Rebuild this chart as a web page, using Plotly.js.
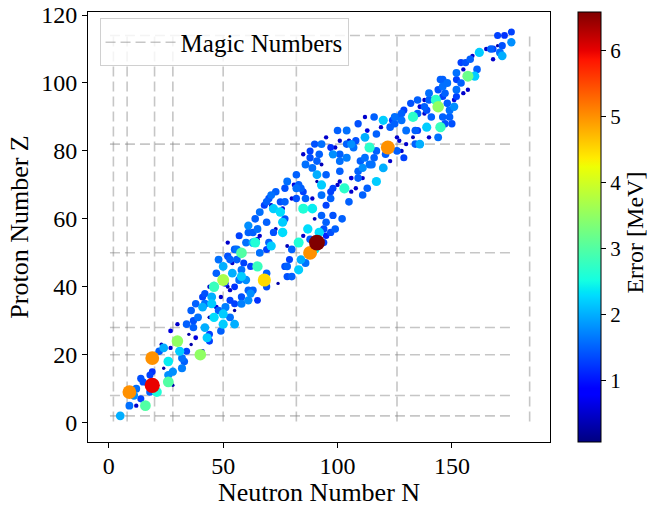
<!DOCTYPE html>
<html>
<head>
<meta charset="utf-8">
<script src="https://cdn.plot.ly/plotly-3.0.1.min.js"></script>
<style>html,body{margin:0;padding:0;background:#fff;}#chart{width:654px;height:507px;}</style>
</head>
<body>
<div id="chart"></div>
<script>
// Neutron number N, proton number Z, error (MeV) for each nucleus
const N = [5,9,16,12,14,9,11,12,19,18, 21,15,14,18,19,26,26,28,32,32,
  28,19,26,22,23,24,24,27,30,31, 34,33,40,41,27,30,34,35,43,37,
  39,42,46,44,49,50,55,53,48,45, 42,41,41,42,45,49,53,58,61,62,
  65,63,53,52,55,46,50,51,52,54, 58,57,58,60,59,62,65,68,69,64,
  66,69,63,58,56,61,36,38,44,36, 47,51,55,58,44,47,50,54,48,46,
  55,52,60,57,66,70,61,64,66,68, 70,91,88,90,84,83,83,80,82,79,
  78,77,76,76,73,72,69,65,63,65, 71,72,75,76,75,77,82,81,84,86,
  85,89,87,92,95,97,93,90,95,93, 95,93,91,89,97,98,85,78,88,94,
  86,95,71,73,78,80,122,114,120,113, 117,112,108,105,101,97,99,98,101,104,
  107,111,114,116,120,117,113,111,109,106, 103,108,111,106,101,101,98,100,105,89,
  92,93,82,82,86,88,85,90,93,95, 100,104,109,112,116,144,143,145,133,139,
  130,128,132,136,146,151,149,147,144,140, 136,134,130,127,128,124,119,123,123,121,
  126,112,117,126,129,133,141,138,135,140, 146,148,176,173,176,170,171,168,165,162,
  172,168,159,158,156,154,160,157,161,152, 155,152,154,152,155,157,151,138,138,135,
  146,150,146,144,129,127,149,148,152,172, 167,170,109,101,97,102,94,99,77,80,
  74,69,55,50,44,83,85,77,91,78, 145,147,139,140,135,125,125,104,106,110,
  115,128,134,91,88,69,71,61,56,53, 38,37];
const Z = [2,5,5,5,7,9,8,10,11,9, 9,12,13,14,15,12,14,15,16,19,
  11,19,18,21,23,22,16,22,24,21, 21,18,20,21,27,29,29,26,25,30,
  31,28,31,26,27,29,29,31,33,35, 35,34,37,38,37,37,36,37,36,38,
  36,39,39,40,40,41,42,41,49,44, 45,42,43,42,47,46,46,42,44,53,
  50,51,56,50,48,39,23,25,31,33, 34,34,33,35,40,44,46,47,48,40,
  51,53,53,55,55,53,58,60,62,64, 66,53,50,51,48,45,53,51,53,48,
  46,60,56,59,57,56,59,57,53,54, 52,63,62,63,65,69,69,70,69,66,
  63,63,57,56,59,56,61,60,64,67, 73,70,71,66,66,61,55,52,54,53,
  47,55,64,68,71,66,81,81,89,86, 85,84,83,83,83,81,81,79,79,78,
  81,75,76,78,75,71,69,72,72,72, 69,69,67,68,71,74,69,70,65,75,
  79,76,73,66,76,80,79,82,82,84, 86,86,88,90,90,93,95,87,90,87,
  86,91,94,93,99,95,90,88,84,84, 82,86,82,83,89,89,87,87,77,79,
  84,78,80,80,78,84,90,91,95,97, 96,100,115,114,112,111,109,110,110,109,
  108,107,108,107,106,106,102,102,104,103, 104,101,100,98,97,98,93,95,93,91,
  90,88,101,98,92,90,92,94,96,111, 110,114,74,77,68,60,57,57,46,43,
  41,40,35,32,24,70,68,65,73,43, 101,97,92,95,86,90,88,82,82,77,
  76,80,82,77,78,65,67,56,51,48, 35,28];
const E = [2.0,1.6,3.0,0.5,1.3,5.0,1.8,1.6,6.0,1.5, 2.6,1.4,1.4,1.3,1.2,3.0,1.8,1.8,1.7,1.6,
  0.3,5.0,2.4,1.5,0.4,2.0,0.3,0.5,3.5,2.2, 1.3,1.5,3.5,0.5,0.6,0.5,1.5,0.3,2.2,1.4,
  1.6,2.0,2.3,1.3,1.5,2.2,2.0,1.6,1.5,2.2, 1.6,2.0,1.3,1.4,2.0,0.5,1.3,1.4,1.8,1.8,
  1.2,1.5,0.5,0.4,1.2,0.3,3.7,1.1,1.4,2.0, 1.6,1.6,2.2,1.8,1.3,1.3,2.8,4.5,1.5,2.6,
  1.6,1.3,1.5,3.0,1.5,1.5,0.3,0.6,0.4,1.5, 0.6,1.7,0.3,1.7,0.5,1.5,2.0,0.5,1.6,2.8,
  1.5,0.5,1.6,1.3,0.5,1.5,1.8,1.5,1.6,1.3, 1.4,6.59,5.0,2.4,2.0,2.2,2.6,1.5,0.4,1.3,
  1.5,1.4,2.3,2.2,0.4,1.4,1.5,1.6,2.0,0.6, 2.2,2.2,2.3,0.6,1.4,1.4,1.6,0.6,1.5,1.5,
  2.6,2.4,2.3,2.3,1.5,1.4,1.5,0.4,1.3,1.6, 1.5,2.2,0.3,0.5,1.5,1.4,0.5,0.4,1.5,1.3,
  1.6,1.1,0.5,1.5,1.6,0.5,5.0,2.7,2.2,0.6, 1.5,2.0,1.4,0.5,0.5,1.2,0.5,1.8,1.5,1.7,
  1.6,1.8,1.6,1.5,2.0,2.2,1.5,0.5,1.5,0.6, 2.7,0.5,1.5,0.5,0.5,1.5,1.3,0.5,1.5,1.6,
  1.5,0.4,1.5,1.4,1.6,1.3,0.5,1.4,1.6,0.5, 1.5,1.6,1.4,0.5,1.5,3.5,2.7,2.8,2.7,2.2,
  1.6,1.5,1.4,0.6,1.6,0.6,1.5,1.4,1.6,0.5, 2.0,1.5,0.5,0.5,1.6,1.3,0.5,1.5,0.5,1.5,
  0.5,1.6,1.5,1.5,1.3,0.4,1.5,0.5,1.5,1.6, 1.3,1.6,1.3,1.2,1.8,0.3,1.6,1.3,0.5,2.2,
  2.0,0.5,0.5,1.5,1.4,1.3,2.2,3.2,1.5,1.6, 0.5,1.3,1.5,1.6,0.5,0.5,1.8,0.5,1.5,1.5,
  1.5,1.4,1.5,1.4,1.3,1.5,1.6,1.5,1.3,1.4, 1.5,1.3,1.5,1.6,1.3,1.5,1.4,1.5,1.4,1.5,
  0.3,1.4,1.3,2.2,1.3,1.5,1.3,1.5,2.0,1.4, 1.5,1.5,1.4,1.5,1.3,1.6,1.5,1.5,1.8,1.5,
  1.6,0.5,1.5,1.5,1.4,1.5,1.6,1.5,1.6,1.5, 1.5,1.5];

const magicN = [2, 8, 20, 28, 50, 82, 126, 184];
const magicZ = [2, 8, 20, 28, 50, 82, 114];
const legendLabel = 'Magic Numbers';
const cbTitle = 'Error [MeV]';
const cbTicks = [1, 2, 3, 4, 5, 6];
const xTicks = [0, 50, 100, 150];
const yTicks = [0, 20, 40, 60, 80, 100, 120];

// extents of the magic-number guide lines
const vSpan = [0.3, 115];
const hSpan = [0.5, 175.5];

const lx = [], ly = [];
magicN.forEach(n => { lx.push(n, n, null); ly.push(vSpan[0], vSpan[1], null); });
magicZ.forEach(z => { lx.push(hSpan[0], hSpan[1], null); ly.push(z, z, null); });

// draw low errors first so large markers sit on top
const order = E.map((e, i) => i).sort((a, b) => E[a] - E[b]);
const xs = order.map(i => N[i]), ys = order.map(i => Z[i]), es = order.map(i => E[i]);

const jet = [
  [0, 'rgb(0,0,128)'], [0.11, 'rgb(0,0,255)'], [0.125, 'rgb(0,0,255)'],
  [0.34, 'rgb(0,219,255)'], [0.35, 'rgb(0,230,247)'], [0.375, 'rgb(20,255,226)'],
  [0.64, 'rgb(238,255,4)'], [0.66, 'rgb(255,236,0)'], [0.89, 'rgb(255,19,0)'],
  [0.91, 'rgb(232,0,0)'], [1, 'rgb(128,0,0)']
];

const FONT = 'Liberation Serif, Times New Roman, serif';

const traces = [
  {
    x: lx, y: ly, type: 'scatter', mode: 'lines', name: legendLabel,
    line: {color: 'rgba(128,128,128,0.45)', width: 1.6, dash: '10px,5px'},
    hoverinfo: 'skip', showlegend: true
  },
  {
    x: xs, y: ys, type: 'scatter', mode: 'markers', showlegend: false,
    marker: {
      size: es, sizemode: 'area', sizeref: 0.052, sizemin: 1, opacity: 1,
      color: es, colorscale: jet, cmin: 0.07, cmax: 6.59,
      line: {width: 0},
      colorbar: {
        x: 1.061, xanchor: 'left', xpad: 0, y: 0.5, yanchor: 'middle',
        len: 1, lenmode: 'fraction', ypad: 0, thickness: 23,
        outlinewidth: 1, outlinecolor: '#000',
        tickvals: cbTicks, ticks: 'outside', ticklen: 5, tickcolor: '#000',
        tickfont: {family: FONT, size: 21, color: '#000'}
      }
    }
  }
];

const axisCommon = {
  ticks: 'outside', ticklen: 5, tickwidth: 1, tickcolor: '#000',
  showline: true, linecolor: '#000', linewidth: 1, mirror: true,
  showgrid: false, zeroline: false,
  tickfont: {family: FONT, size: 24, color: '#000'}
};

const layout = {
  width: 654, height: 507,
  margin: {l: 88, r: 104, t: 12, b: 65, pad: 0},
  paper_bgcolor: '#fff', plot_bgcolor: '#fff',
  font: {family: FONT, size: 24, color: '#000'},
  xaxis: Object.assign({}, axisCommon, {
    range: [-9.1, 192.9], tickvals: xTicks, ticklabelstandoff: -3,
    title: {text: 'Neutron Number N', font: {family: FONT, size: 26, color: '#000'}, standoff: 8}
  }),
  yaxis: Object.assign({}, axisCommon, {
    range: [-5.7, 120.9], tickvals: yTicks,
    title: {text: 'Proton Number Z', font: {family: FONT, size: 26, color: '#000'}, standoff: 5}
  }),
  legend: {
    x: 0.025, y: 0.985, xanchor: 'left', yanchor: 'top', itemwidth: 70,
    bgcolor: 'rgba(255,255,255,0.8)', bordercolor: '#d0d0d0', borderwidth: 1,
    font: {family: FONT, size: 25, color: '#000'}
  },
  annotations: [{
    text: cbTitle, xref: 'paper', yref: 'paper', x: 1.183, y: 0.486,
    xanchor: 'center', yanchor: 'middle', textangle: -90, showarrow: false,
    font: {family: FONT, size: 24, color: '#000'}
  }]
};

Plotly.newPlot('chart', traces, layout, {displayModeBar: false, staticPlot: true});
</script>
</body>
</html>
